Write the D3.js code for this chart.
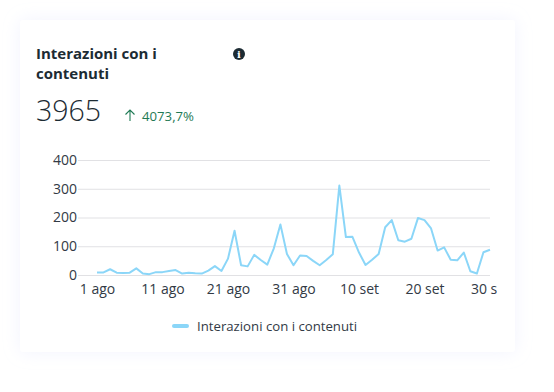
<!DOCTYPE html>
<html>
<head>
<meta charset="utf-8">
<script src="https://cdn.jsdelivr.net/npm/d3@7"></script>
<style>
html, body { margin: 0; padding: 0; background: #fff; overflow: hidden; }
svg { display: block; font-family: "Open Sans", sans-serif; }
</style>
</head>
<body>
<svg id="chart" width="554" height="392"></svg>
<script>
var days = [
    "1 ago", "2 ago", "3 ago", "4 ago", "5 ago", "6 ago", "7 ago", "8 ago", "9 ago", "10 ago",
    "11 ago", "12 ago", "13 ago", "14 ago", "15 ago", "16 ago", "17 ago", "18 ago", "19 ago", "20 ago",
    "21 ago", "22 ago", "23 ago", "24 ago", "25 ago", "26 ago", "27 ago", "28 ago", "29 ago", "30 ago",
    "31 ago", "1 set", "2 set", "3 set", "4 set", "5 set", "6 set", "7 set", "8 set", "9 set",
    "10 set", "11 set", "12 set", "13 set", "14 set", "15 set", "16 set", "17 set", "18 set", "19 set",
    "20 set", "21 set", "22 set", "23 set", "24 set", "25 set", "26 set", "27 set", "28 set", "29 set", "30 set"
];
var values = [
    9, 9, 20, 8, 7, 8, 23, 5, 3, 10,
    10, 14, 17, 5, 8, 6, 5, 15, 31, 14,
    57, 154, 34, 30, 70, 52, 36, 93, 176, 73,
    34, 68, 66, 49, 34, 52, 72, 311, 132, 133,
    78, 35, 53, 73, 166, 191, 121, 116, 126, 198,
    191, 162, 85, 96, 53, 51, 78, 13, 5, 79, 88
];
var xTicks = ["1 ago", "11 ago", "21 ago", "31 ago", "10 set", "20 set", "30 set"];
var yTicks = [0, 100, 200, 300, 400];
var seriesName = "Interazioni con i contenuti";
var titleLines = ["Interazioni con i", "contenuti"];
var total = "3965";
var change = "4073,7%";

var svg = d3.select("#chart");
var defs = svg.append("defs");

var shadow = defs.append("filter").attr("id", "cardShadow")
    .attr("x", "-10%").attr("y", "-10%").attr("width", "120%").attr("height", "120%");
shadow.append("feDropShadow")
    .attr("dx", 0).attr("dy", 0).attr("stdDeviation", 9)
    .attr("flood-color", "#dfe3fa").attr("flood-opacity", 0.4);

defs.append("clipPath").attr("id", "axisClip").append("rect")
    .attr("x", 60).attr("y", 270).attr("width", 437).attr("height", 40);

svg.append("rect")
    .attr("x", 20).attr("y", 20).attr("width", 495).attr("height", 332).attr("rx", 3)
    .attr("fill", "#fff").attr("filter", "url(#cardShadow)");

// header
svg.append("g").selectAll("text").data(titleLines).enter().append("text")
    .attr("x", 36)
    .attr("y", function (d, i) { return 59 + i * 20; })
    .attr("font-size", 15).attr("font-weight", 700).attr("fill", "#1c2b33")
    .text(function (d) { return d; });

var info = svg.append("g").attr("transform", "translate(239,54)");
info.append("circle").attr("r", 6).attr("fill", "#1c2b33");
info.append("text").attr("text-anchor", "middle").attr("y", 4)
    .attr("font-size", 10).attr("font-weight", 700).attr("font-family", "'DejaVu Serif', serif")
    .attr("fill", "#fff").text("i");

svg.append("text").attr("x", 36).attr("y", 121)
    .attr("font-size", 28.5).attr("font-weight", 300).attr("fill", "#1c2b33").text(total);

svg.append("path")
    .attr("d", d3.line()([[130, 121], [130, 110]]) + d3.line()([[125.5, 114.5], [130, 110], [134.5, 114.5]]))
    .attr("fill", "none").attr("stroke", "#1f7a55").attr("stroke-width", 1.1);
svg.append("text").attr("x", 142).attr("y", 121)
    .attr("font-size", 13.2).attr("fill", "#1f7a55").text(change);

// scales
var x = d3.scalePoint().domain(days).range([97, 490]);
var y = d3.scaleLinear().domain([0, 400]).range([275, 160]);

// axes
var yAxis = svg.append("g").attr("transform", "translate(78,0)")
    .call(d3.axisLeft(y).tickValues(yTicks).tickSize(-412).tickPadding(1));
yAxis.select(".domain").remove();
yAxis.selectAll(".tick line").attr("stroke", "#e1e1e4").attr("stroke-width", 1);
yAxis.selectAll(".tick text").attr("font-size", 14).attr("fill", "#323a45")
    .attr("font-family", "'Open Sans', sans-serif");

var xAxis = svg.append("g").attr("clip-path", "url(#axisClip)").append("g")
    .attr("transform", "translate(0,275)")
    .call(d3.axisBottom(x).tickValues(xTicks).tickSize(0).tickPadding(9));
xAxis.select(".domain").remove();
xAxis.selectAll(".tick text").attr("font-size", 14).attr("fill", "#323a45")
    .attr("font-family", "'Open Sans', sans-serif");

// series
var line = d3.line()
    .x(function (d, i) { return x(days[i]); })
    .y(function (d) { return y(d); });
svg.append("path").datum(values)
    .attr("d", line)
    .attr("fill", "none").attr("stroke", "#8bd6f8").attr("stroke-width", 2)
    .attr("stroke-linejoin", "round");

// legend
svg.append("line")
    .attr("x1", 174).attr("x2", 187).attr("y1", 326).attr("y2", 326)
    .attr("stroke", "#8bd6f8").attr("stroke-width", 4).attr("stroke-linecap", "round");
svg.append("text").attr("x", 197).attr("y", 331)
    .attr("font-size", 13.2).attr("fill", "#323a45").text(seriesName);
</script>
</body>
</html>
